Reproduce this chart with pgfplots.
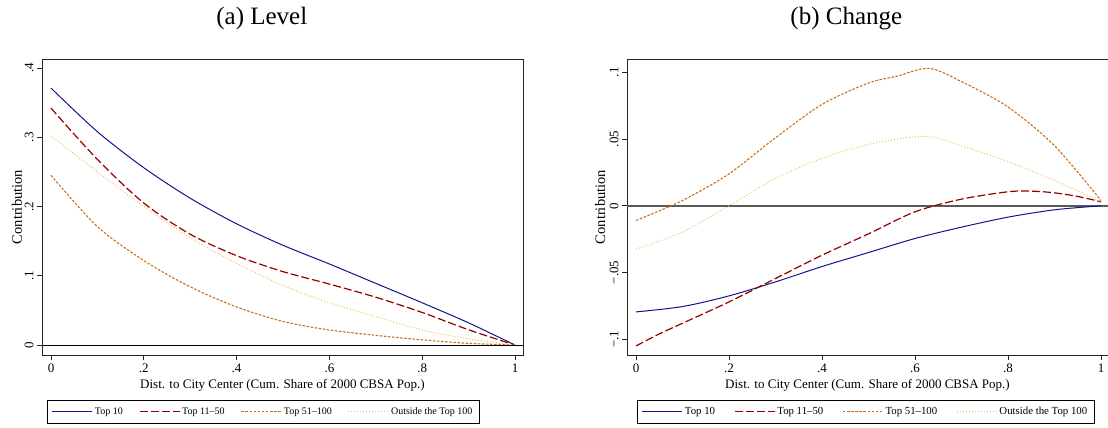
\documentclass[border=0pt]{standalone}
\usepackage{fontspec}
\setmainfont{Liberation Serif}
\usepackage{pgfplots}
\pgfplotsset{compat=1.18}
\definecolor{cnavy}{RGB}{20,20,140}
\definecolor{cmaroon}{RGB}{150,0,0}
\definecolor{corange}{RGB}{205,110,25}
\definecolor{cyellow}{RGB}{235,195,90}
\tikzset{
  s1/.style={draw=cnavy, color=cnavy, line width=1pt},
  s2/.style={draw=cmaroon, color=cmaroon, line width=1.2pt, dash pattern=on 8pt off 3pt},
  s3/.style={draw=corange, color=corange, line width=1.1pt, dash pattern=on 2.5pt off 1.6pt},
  s4/.style={draw=cyellow, color=cyellow, line width=1pt, dash pattern=on 1pt off 2pt},
}
\pgfplotsset{
  lg1/.style={legend image code/.code={\draw[s1, solid, line width=1.2pt] (0pt,0pt) -- (40pt,0pt);}},
  lg2/.style={legend image code/.code={\draw[s2, line width=1.3pt] (0pt,0pt) -- (40pt,0pt);}},
  lg3/.style={legend image code/.code={\draw[s3, line width=1.2pt] (0pt,0pt) -- (40pt,0pt);}},
  lg4/.style={legend image code/.code={\draw[s4, line width=1.2pt] (0pt,0pt) -- (40pt,0pt);}},
  stata/.style={
    scale only axis,
    width=481pt, height=296pt,
    axis line style={black!85, line width=0.9pt},
    tick pos=left, tick align=outside,
    major tick length=5pt,
    tick style={black!85, line width=0.8pt},
    xtick={0,0.2,0.4,0.6,0.8,1},
    xticklabels={0,.2,.4,.6,.8,1},
    ticklabel style={font=\fontsize{13}{15}\selectfont},
    yticklabel style={rotate=90, anchor=south},
    xlabel={Dist. to City Center (Cum. Share of 2000 CBSA Pop.)},
    xlabel style={font=\fontsize{13}{15}\selectfont, at={(0.5,0)}, anchor=north, yshift=-21pt},
    ylabel={Contribution},
    ylabel style={font=\fontsize{14.5}{16}\selectfont},
    title style={font=\fontsize{25}{28}\selectfont, anchor=center},
    legend columns=4,
    legend cell align=left,
    legend style={inner xsep=5pt, inner ysep=5pt,
      font=\fontsize{10}{12}\selectfont, anchor=center,
      /tikz/every even column/.append style={column sep=14pt}},
    every axis plot/.append style={smooth},
  },
}
\begin{document}
\begin{tikzpicture}
\useasboundingbox (-42pt,-73pt) rectangle (1066pt,355pt);
\begin{axis}[stata,
  at={(0pt,0pt)}, anchor=south west,
  xmin=-0.0194, xmax=1.0172, ymin=-0.0144, ymax=0.413,
  ytick={0,0.1,0.2,0.3,0.4},
  yticklabels={0,.1,.2,.3,.4},
  ylabel style={at={(-0.052,0.5)}, anchor=center},
  title={(a) Level}, title style={at={(0.457,1.115)}},
  legend style={at={(0.4595,-0.191)}},
]
\addplot[s1, lg1] coordinates {(0,0.371) (0.1,0.308) (0.2,0.256) (0.3,0.212) (0.4,0.175) (0.5,0.144) (0.6,0.117) (0.7,0.089) (0.8,0.061) (0.9,0.032) (1,0.0)};
\addlegendentry{Top 10}
\addplot[s2, lg2] coordinates {(0,0.342) (0.1,0.268) (0.2,0.205) (0.3,0.160) (0.4,0.129) (0.5,0.106) (0.6,0.088) (0.7,0.069) (0.8,0.047) (0.9,0.022) (1,0.0)};
\addlegendentry{Top 11--50}
\addplot[s3, lg3] coordinates {(0,0.245) (0.1,0.171) (0.2,0.122) (0.3,0.084) (0.4,0.055) (0.5,0.034) (0.6,0.0217) (0.7,0.0140) (0.8,0.0075) (0.9,0.0024) (1,0.0)};
\addlegendentry{Top 51--100}
\addplot[s4, lg4] coordinates {(0,0.302) (0.1,0.250) (0.2,0.200) (0.3,0.155) (0.4,0.118) (0.5,0.086) (0.6,0.061) (0.7,0.041) (0.8,0.0217) (0.9,0.009) (1,0.0)};
\addlegendentry{Outside the Top 100}
\addplot[forget plot, black, line width=0.9pt, sharp plot] coordinates {(-0.0194,0) (1.0172,0)};
\end{axis}
\begin{axis}[stata,
  at={(585pt,0pt)}, anchor=south west,
  xmin=-0.0194, xmax=1.015, ymin=-0.1118, ymax=0.110,
  ytick={-0.1,-0.05,0,0.05,0.1},
  yticklabels={−.1,−.05,0,.05,.1},
  ylabel style={at={(-0.056,0.5)}, anchor=center},
  title={(b) Change}, title style={at={(0.456,1.115)}},
  legend style={at={(0.4958,-0.191)}, font=\fontsize{10.8}{12}\selectfont,
    /tikz/every even column/.append style={column sep=17pt}},
]
\addplot[forget plot, black!65, line width=1.6pt, sharp plot] coordinates {(-0.0194,0) (1.015,0)};
\addplot[s1, lg1] coordinates {(0,-0.0795) (0.1,-0.0755) (0.2,-0.0675) (0.3,-0.057) (0.4,-0.0455) (0.5,-0.035) (0.6,-0.0245) (0.7,-0.016) (0.8,-0.0085) (0.9,-0.003) (1,0.0)};
\addlegendentry{Top 10}
\addplot[s2, lg2] coordinates {(0,-0.105) (0.05,-0.096) (0.1,-0.088) (0.2,-0.072) (0.3,-0.0545) (0.4,-0.037) (0.5,-0.021) (0.6,-0.0045) (0.7,0.005) (0.8,0.0105) (0.85,0.011) (0.9,0.0097) (0.95,0.007) (1,0.003)};
\addlegendentry{Top 11--50}
\addplot[s3, lg3] coordinates {(0,-0.011) (0.1,0.004) (0.2,0.024) (0.3,0.051) (0.4,0.076) (0.5,0.092) (0.56,0.097) (0.63,0.103) (0.7,0.093) (0.8,0.074) (0.9,0.045) (1,0.004)};
\addlegendentry{Top 51--100}
\addplot[s4, lg4] coordinates {(0,-0.0325) (0.1,-0.0195) (0.2,0.0) (0.3,0.0205) (0.4,0.0355) (0.5,0.046) (0.62,0.052) (0.7,0.045) (0.8,0.033) (0.9,0.019) (1,0.003)};
\addlegendentry{Outside the Top 100}
\end{axis}
\end{tikzpicture}
\end{document}
